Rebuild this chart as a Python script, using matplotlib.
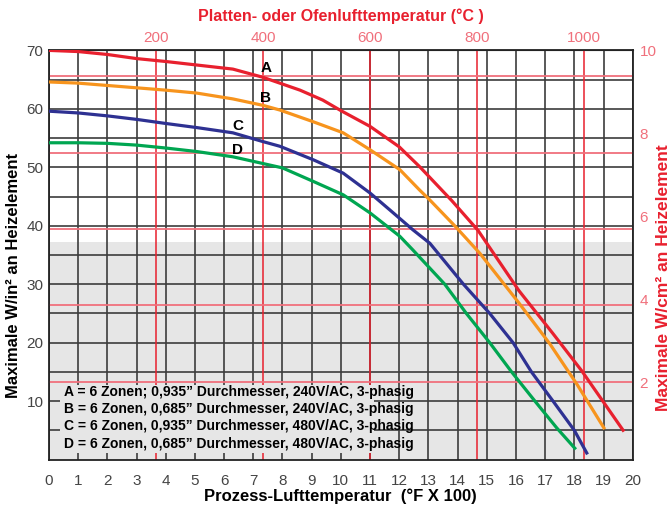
import matplotlib
matplotlib.use("Agg")
import matplotlib.pyplot as plt
from matplotlib.patches import Rectangle

plt.rcParams["font.family"] = ["Liberation Sans", "DejaVu Sans"]

# curve data (W/in2 vs process air temp in degF x 100)
a_x = [0, 1, 2, 3, 4, 5.06, 6.3, 7.33, 8.6, 9.38, 10.0, 11.0, 12.0, 12.7, 13.8, 14.7, 16.1, 17.26, 18.25, 19.7]
a_y = [70.0, 69.8, 69.3, 68.6, 68.1, 67.5, 66.8, 65.4, 63.2, 61.5, 59.7, 57.0, 53.5, 50.1, 44.3, 39.2, 28.9, 21.6, 15.2, 4.8]

b_x = [0, 1, 2, 3, 4, 5.06, 6.3, 7.33, 7.91, 9.05, 10.08, 11.0, 12.02, 12.7, 13.05, 13.9, 14.76, 16.1, 17.16, 18.1, 19.04]
b_y = [64.6, 64.4, 64.0, 63.6, 63.2, 62.7, 61.7, 60.6, 59.8, 57.8, 55.9, 53.0, 49.6, 46.1, 44.4, 40.0, 35.3, 26.8, 19.8, 12.8, 5.2]

c_x = [0, 1, 2, 3, 4, 5.06, 6.3, 7.33, 7.91, 9.05, 10.08, 11.0, 11.68, 12.47, 13.05, 14.2, 15.1, 15.9, 16.53, 17.27, 18.0, 18.45]
c_y = [59.6, 59.3, 58.8, 58.2, 57.5, 56.8, 55.9, 54.4, 53.6, 51.3, 49.0, 45.6, 42.7, 39.3, 37.0, 30.0, 25.0, 20.0, 15.0, 10.0, 5.0, 0.9]

d_x = [0, 1, 2, 3, 4, 5.06, 6.3, 8.0, 9.05, 10.08, 11.0, 12.02, 12.46, 13.56, 14.3, 15.1, 15.85, 16.65, 17.4, 18.05]
d_y = [54.2, 54.2, 54.1, 53.8, 53.3, 52.7, 51.8, 49.9, 47.6, 45.3, 42.2, 38.2, 35.9, 30.0, 25.0, 20.0, 15.0, 10.0, 5.4, 1.75]

curve_names = ["A", "B", "C", "D"]
curve_colors = ["#e8202e", "#f7941d", "#2e3192", "#00a651"]
label_pos = [(7.45, 67.0), (7.43, 61.9), (6.47, 57.1), (6.47, 53.0)]

legend_lines = [
    "A = 6 Zonen; 0,935\u201d Durchmesser, 240V/AC, 3-phasig",
    "B = 6 Zonen, 0,685\u201d Durchmesser, 240V/AC, 3-phasig",
    "C = 6 Zonen, 0,935\u201d Durchmesser, 480V/AC, 3-phasig",
    "D = 6 Zonen, 0,685\u201d Durchmesser, 480V/AC, 3-phasig",
]

# reference lines
celsius_ticks = [200, 400, 600, 800, 1000]
wcm2_lines = [13.2, 26.5, 39.4, 52.4, 65.7]   # W/cm2 = 2,4,6,8,10 on the W/in2 scale
c_to_x = 0.01832                             # x units per degC as drawn on the chart

red = "#e8202e"
pink = "#f0707c"
grid_col = "#3c3c3c"

fig = plt.figure(figsize=(6.71, 5.09), dpi=100)
ax = fig.add_axes([0.073, 0.097, 0.870, 0.804])
ax.set_xlim(0, 20)
ax.set_ylim(0, 70)
ax.set_axisbelow(True)

ax.axhspan(0, 37.2, color="#e6e6e6", zorder=0.2, lw=0)

ax.set_xticks(range(0, 21))
ax.set_yticks(range(10, 71, 10))
ax.set_yticks([5, 15, 25, 35, 45, 55, 65], minor=True)
ax.grid(True, which="both", color=grid_col, lw=1.2)
ax.tick_params(axis="both", which="both", length=0, labelsize=11, colors="#444444")
ax.tick_params(axis="x", pad=10)
ax.tick_params(axis="y", pad=4)
for sp in ax.spines.values():
    sp.set_color("#222222")
    sp.set_linewidth(1.3)

for c in celsius_ticks:
    ax.axvline(c * c_to_x, color=red, lw=1.1, zorder=0.8)
for v in wcm2_lines:
    ax.axhline(v, color=pink, lw=1.3, zorder=0.8)

# box behind the legend text
ax.add_patch(Rectangle((0.38, 1.2), 10.75, 11.6, facecolor="#e6e6e6", edgecolor="none", zorder=1.5))

series = [(a_x, a_y), (b_x, b_y), (c_x, c_y), (d_x, d_y)]
for (xs, ys), col in zip(series, curve_colors):
    ax.plot(xs, ys, color=col, lw=2.3, zorder=3, solid_capstyle="butt")

for name, (lx, ly) in zip(curve_names, label_pos):
    ax.text(lx, ly, name, fontsize=11, fontweight="bold", ha="center", va="center", zorder=4)

for i, line in enumerate(legend_lines):
    ax.text(0.5, 11.6 - i * 2.95, line, fontsize=10, fontweight="bold", va="center", zorder=4)

ax.set_xlabel("Prozess-Lufttemperatur  (\u00b0F X 100)", fontsize=12, fontweight="bold", labelpad=1)
fig.text(14 / 671, 1 - 275 / 509, "Maximale W/in\u00b2 an Heizelement", fontsize=12,
         fontweight="bold", rotation=90, ha="center", va="center")

# top Celsius axis
top = ax.secondary_xaxis("top", functions=(lambda x: x / c_to_x, lambda c: c * c_to_x))
top.set_xticks(celsius_ticks)
top.tick_params(length=0, labelsize=11, colors=pink, pad=4)
top.set_xlabel("Platten- oder Ofenlufttemperatur (\u00b0C )", fontsize=11.5, fontweight="bold",
               color=red, labelpad=7)

# right W/cm2 axis
ax2 = ax.twinx()
ax2.set_ylim(0.127, 10.01)
ax2.set_yticks([2, 4, 6, 8, 10])
ax2.tick_params(length=0, labelsize=11, colors=pink, pad=5)
for sp in ax2.spines.values():
    sp.set_visible(False)
fig.text(664 / 671, 1 - 278 / 509, "Maximale W/cm\u00b2 an Heizelement", fontsize=12.5,
         fontweight="bold", color=red, rotation=90, ha="center", va="center")

plt.savefig("out.png", dpi=100)
